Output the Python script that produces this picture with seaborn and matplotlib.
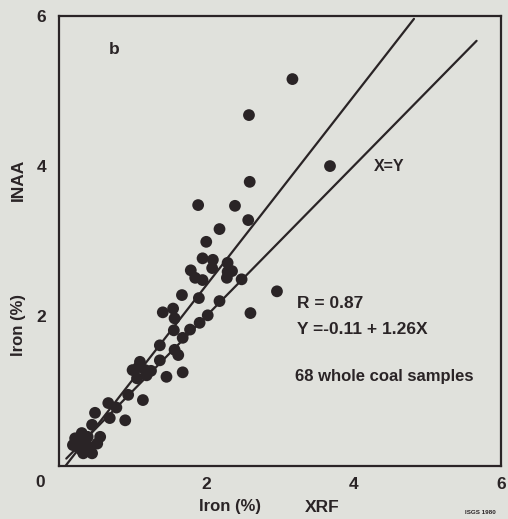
import numpy as np
import pandas as pd
import matplotlib
matplotlib.use("Agg")
import matplotlib.pyplot as plt
import seaborn as sns

# XRF vs INAA iron (%)
xrf = [3.17, 2.58, 3.68, 2.59, 1.89, 2.39, 2.57, 2.18, 2.00,
       1.95, 2.09, 2.08, 2.29, 2.29, 2.28, 1.79, 1.85, 1.95, 2.48,
       1.67, 1.90, 2.18, 2.96, 2.60, 1.41, 1.55, 2.02, 1.91, 1.57,
       1.56, 1.68, 1.37, 1.57, 1.62, 1.37, 1.10, 1.00, 1.17, 1.19,
       1.06, 1.46, 1.68, 1.14, 0.94,
       0.67, 0.69, 0.90, 0.49, 0.45, 0.31, 0.56, 0.22, 0.38, 0.26,
       0.45, 0.33, 0.39, 0.19, 0.28, 0.42,
       1.08, 1.25, 0.30, 0.36, 0.52, 0.78, 2.35, 1.78]
inaa = [5.16, 4.68, 4.00, 3.79, 3.48, 3.47, 3.28, 3.16, 2.99,
        2.77, 2.75, 2.64, 2.71, 2.59, 2.51, 2.61, 2.51, 2.48, 2.49,
        2.28, 2.24, 2.20, 2.33, 2.04, 2.05, 2.10, 2.01, 1.91, 1.97,
        1.81, 1.71, 1.61, 1.55, 1.48, 1.41, 1.39, 1.28, 1.28, 1.21,
        1.17, 1.19, 1.25, 0.88, 0.95,
        0.84, 0.64, 0.61, 0.71, 0.55, 0.44, 0.39, 0.37, 0.28, 0.25,
        0.17, 0.17, 0.39, 0.28, 0.32, 0.21,
        1.32, 1.27, 0.22, 0.36, 0.30, 0.78, 2.60, 1.82]

# regression Y = -0.11 + 1.26X and the X=Y line
reg_x = [0.09, 4.82]
one_x = [0.10, 5.67]
intercept, slope = -0.11, 1.26

ticks = [0, 2, 4, 6]
tick_labels = ["", "2", "4", "6"]

df = pd.DataFrame({"XRF": xrf, "INAA": inaa})

bg = "#e0e1dc"
ink = "#2a2426"

sns.set_style("white")
plt.rcParams["font.family"] = ["Liberation Sans", "DejaVu Sans"]

fig = plt.figure(figsize=(5.08, 5.19), dpi=100, facecolor=bg)
ax = fig.add_axes([0.116, 0.102, 0.870, 0.867], facecolor=bg)

sns.scatterplot(data=df, x="XRF", y="INAA", s=72, color=ink, edgecolor="none", ax=ax, zorder=3)
ax.plot(reg_x, [intercept + slope * v for v in reg_x], color=ink, lw=1.6, zorder=2)
ax.plot(one_x, one_x, color=ink, lw=1.6, zorder=2)

ax.set_xlim(0, 6)
ax.set_ylim(0, 6)
ax.set_xticks(ticks)
ax.set_xticklabels(tick_labels, fontsize=12.5, fontweight="bold", color=ink)
ax.set_yticks(ticks)
ax.set_yticklabels(tick_labels, fontsize=12.5, fontweight="bold", color=ink)
ax.tick_params(axis="both", direction="out", length=5, width=1.5, color=ink, pad=4)
ax.tick_params(axis="x", pad=3)
ax.set_xlabel("")
ax.set_ylabel("")
for sp in ax.spines.values():
    sp.set_color(ink)
    sp.set_linewidth(1.6)

ax.text(-0.25, -0.22, "0", fontsize=12.5, fontweight="bold", color=ink, ha="center", va="center")
ax.text(0.75, 5.55, "b", fontsize=12.5, fontweight="bold", color=ink, ha="center", va="center")
ax.text(4.49, 3.99, "X=Y", fontsize=11.5, fontweight="semibold", color=ink, ha="center", va="center")
ax.text(3.23, 2.17, "R = 0.87", fontsize=12.5, fontweight="bold", color=ink, ha="left", va="center")
ax.text(3.23, 1.82, "Y =-0.11 + 1.26X", fontsize=12.5, fontweight="bold", color=ink, ha="left", va="center")
ax.text(3.21, 1.19, "68 whole coal samples", fontsize=12, fontweight="bold", color=ink, ha="left", va="center")

# axis titles
fig.text(18 / 508, 1 - 180 / 519, "INAA", rotation=90, fontsize=12.5, fontweight="bold", color=ink, ha="center", va="center")
fig.text(18 / 508, 1 - 325 / 519, "Iron (%)", rotation=90, fontsize=12, fontweight="semibold", color=ink, ha="center", va="center")
fig.text(230 / 508, 1 - 507 / 519, "Iron (%)", fontsize=12, fontweight="semibold", color=ink, ha="center", va="center")
fig.text(322 / 508, 1 - 507 / 519, "XRF", fontsize=12.5, fontweight="bold", color=ink, ha="center", va="center")
fig.text(480 / 508, 1 - 513 / 519, "ISGS 1980", fontsize=4.5, fontweight="bold", color=ink, ha="center", va="center")

fig.savefig("out.png", dpi=100, facecolor=bg)
